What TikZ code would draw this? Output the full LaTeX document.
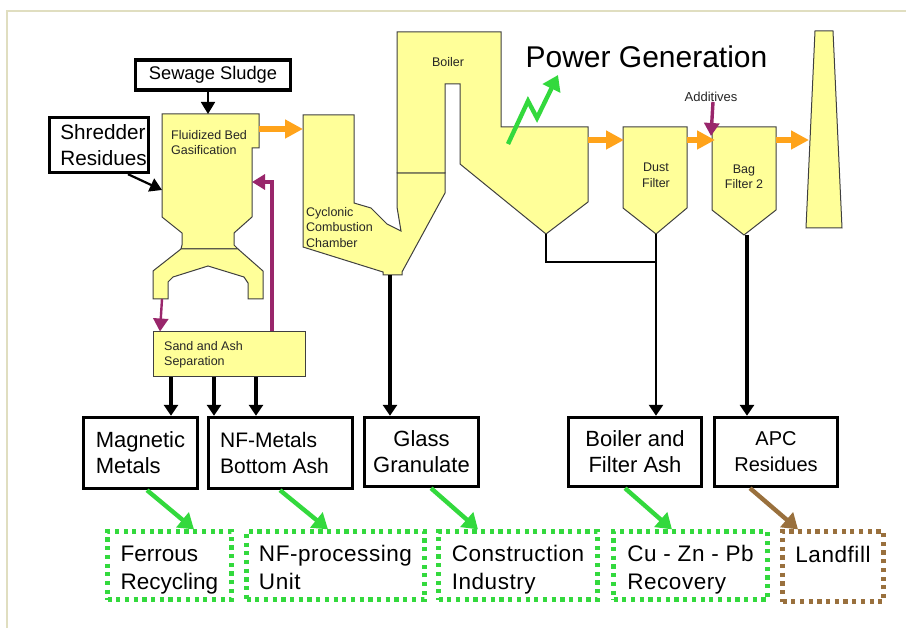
\documentclass[tikz,border=0pt]{standalone}
\usepackage{fontspec}
\setmainfont{Liberation Sans}
\newfontfamily\spacedfont[LetterSpace=2.5]{Liberation Sans}
\usetikzlibrary{arrows.meta}
\definecolor{vesselfill}{HTML}{FFFF99}
\definecolor{flueorange}{HTML}{FFA31A}
\definecolor{reusegreen}{HTML}{33D93D}
\definecolor{solidspurple}{HTML}{99266B}
\definecolor{landfillbrown}{HTML}{99703D}
\definecolor{framecolor}{HTML}{E0DEC0}
\newcommand{\marketrows}[2]{\rule{0pt}{24pt}#1\\#2\rule[-5pt]{0pt}{5pt}}
\tikzset{
  vessel/.style = {
    draw=black!75,
    fill=vesselfill,
    line width=1pt,
    line join=miter
  },
  tag/.style = {
    font=\fontsize{12.5}{15.5}\selectfont,
    text=black!85,
    align=left,
    inner sep=0pt
  },
  feed/.style = {
    draw=black,
    line width=3.4pt,
    fill=white,
    align=left,
    inner sep=0pt
  },
  product/.style = {
    feed,
    font=\fontsize{22}{26}\selectfont
  },
  market/.style = {
    product,
    draw=reusegreen,
    line width=4.2pt,
    dash pattern=on 4.2pt off 4.5pt,
    font=\spacedfont\fontsize{22.5}{28}\selectfont
  },
  flue/.style = {
    draw=flueorange,
    line width=5.5pt,
    -{Triangle[length=18pt,width=18pt]}
  },
  residue/.style = {
    draw=black,
    line width=3.6pt,
    -{Triangle[length=11pt,width=14pt]}
  },
  thinfeed/.style = {
    draw=black,
    line width=1.8pt,
    -{Triangle[length=12pt,width=14pt]}
  },
  solids/.style = {
    draw=solidspurple,
    line width=3.4pt,
    -{Triangle[length=13pt,width=15pt]}
  },
  reuse/.style = {
    draw=reusegreen,
    line width=4.4pt,
    -{Triangle[length=15pt,width=19pt]}
  }
}

\begin{document}
\begin{tikzpicture}[x=1pt,y=-1pt]

      \useasboundingbox (0,0) rectangle (906,628);
      \fill[white] (0,0) rectangle (906,628);
      \draw[framecolor, line width=1.6pt] (7,628) -- (7,11) -- (906,11);

      % plant
      \draw[vessel] (162,114) -- (259,114) -- (259,148) -- (252,148) -- (252,217) -- (234,233)
        -- (234,245) -- (238,249) -- (181,249) -- (182,245) -- (182,233) -- (162,217) -- cycle;
      \draw[vessel] (181,249) -- (238,249) -- (263,271) -- (263,299) -- (248,299) -- (248,283)
        -- (244,277) -- (208,266) -- (173,277) -- (168,282) -- (168,299) -- (153,299) -- (153,271) -- cycle;
      \draw[vessel] (397,173) -- (445,173) -- (445,193) -- (402,272) -- (402,275) -- (383,275)
        -- (383,272) -- (303,247) -- (303,115) -- (354,115) -- (354,203) -- (371,208) -- (387,224)
        -- (401,231) -- (397,207) -- cycle;
      \draw[vessel] (397,32) -- (501,32) -- (501,127) -- (588,127) -- (588,202) -- (546,234)
        -- (460,164) -- (460,84) -- (445,84) -- (445,173) -- (397,173) -- cycle;
      \draw[vessel] (623,127) -- (687,127) -- (687,208) -- (656,234) -- (623,208) -- cycle;
      \draw[vessel] (712,127) -- (776,127) -- (776,210) -- (744,235) -- (712,210) -- cycle;
      \draw[vessel] (815,31) -- (833,31) -- (842,228) -- (806,228) -- cycle;
      \node[vessel, minimum width=152pt, minimum height=45pt, inner sep=0pt] (sand) at (229,354.5) {};

      % labels on the plant
      \node[tag, anchor=west] (gasifierlabel) at (171,142.5) {Fluidized Bed\\Gasification};
      \node[tag, anchor=west] (chamberlabel) at (306,227.5) {Cyclonic\\Combustion\\Chamber};
      \node[tag, anchor=west] (sandlabel) at (164,355) {Sand and Ash\\Separation};
      \node[tag] (boilerlabel) at (448,62.5) {Boiler};
      \node[tag, align=center] (dustlabel) at (656,175.5) {Dust\\Filter};
      \node[tag, align=center] (baglabel) at (744,177) {Bag\\Filter 2};
      \node[tag, font=\fontsize{13}{15}\selectfont] (additives) at (711,97) {Additives};
      \node[inner sep=0pt, font=\fontsize{30}{34}\selectfont] (power) at (646.5,57) {Power Generation};

      % inputs
      \node[feed, font=\fontsize{18.3}{22}\selectfont, minimum width=155pt, minimum height=30pt] (sewage) at (213,75) {Sewage Sludge};
      \node[product, font=\fontsize{20.7}{26}\selectfont, minimum width=99pt, minimum height=55pt] (shredder) at (99,145) {\hspace*{9pt}Shredder\\\hspace*{9pt}Residues};

      % products
      \node[product, minimum width=114pt, minimum height=71pt] (magnetic) at (140.5,453) {Magnetic\\Metals};
      \node[product, font=\fontsize{21}{26}\selectfont, minimum width=144pt, minimum height=71pt] (nfmetals) at (280.5,453) {NF-Metals\\Bottom Ash\hspace*{12pt}};
      \node[product, align=center, minimum width=114pt, minimum height=69pt] (glass) at (421.5,452) {Glass\\Granulate};
      \node[product, align=center, minimum width=133pt, minimum height=69pt] (ash) at (635,452) {Boiler and\\Filter Ash};
      \node[product, align=center, font=\fontsize{20}{26}\selectfont, minimum width=123pt, minimum height=69pt] (apc) at (776,452) {APC\\Residues};

      % outlets
      \node[market, font=\fontsize{22.5}{28}\selectfont, minimum width=124pt, minimum height=68pt] (ferrous) at (169.5,565.5) {\marketrows{Ferrous}{Recycling}};
      \node[market, minimum width=178pt, minimum height=68pt] (nfunit) at (335.5,565.5) {\marketrows{NF-processing}{Unit}};
      \node[market, minimum width=159pt, minimum height=68pt] (construction) at (518,565.5) {\marketrows{Construction}{Industry}};
      \node[market, minimum width=154pt, minimum height=68pt] (recovery) at (690.5,565.5) {\marketrows{Cu - Zn - Pb}{Recovery}};
      \node[market, draw=landfillbrown, minimum width=101pt, minimum height=70pt] (landfill) at (833,566.5) {\marketrows{Landfill}{\mbox{}}};

      % connector ends
      \coordinate (gasout) at (259,129);
      \coordinate (chamberin) at (303,129);
      \coordinate (boilerout) at (588,140);
      \coordinate (dustin) at (624,140);
      \coordinate (dustout) at (687,140);
      \coordinate (bagin) at (715,140);
      \coordinate (bagout) at (776,140);
      \coordinate (stackin) at (809,140);
      \coordinate (gastop) at (208,114);
      \coordinate (gasleft) at (162,190);
      \coordinate (gasright) at (252,182);
      \coordinate (leftleg) at (162,299);
      \coordinate (chamberbase) at (390,275);
      \coordinate (boilerbase) at (546,234);
      \coordinate (junction) at (656,262);
      \coordinate (dustbase) at (656,234);
      \coordinate (bagbase) at (747,235);
      \coordinate (bagtop) at (711,136);
      \coordinate (steam) at (508,144);

      % flue gas
      \draw[flue] (gasout) -- (chamberin);
      \draw[flue] (boilerout) -- (dustin);
      \draw[flue] (dustout) -- (bagin);
      \draw[flue] (bagout) -- (stackin);

      % solids
      \draw[thinfeed] (sewage.south -| gastop) -- (gastop);
      \draw[thinfeed, line width=2.2pt] (shredder.south -| 128,0) -- (gasleft);
      \draw[solids, line width=2.4pt] (leftleg) -- (sand.north -| 160,0);
      \draw[solids] (sand.north -| 272,0) -- (272,182) -- (gasright);
      \draw[solids] (additives.south -| 713,0) -- (bagtop);
      \draw[residue] (sand.south -| 171,0) -- (magnetic.north -| 171,0);
      \draw[residue] (sand.south -| 214,0) -- (nfmetals.north -| 214,0);
      \draw[residue] (sand.south -| 256,0) -- (nfmetals.north -| 256,0);
      \draw[residue] (chamberbase) -- (glass.north -| chamberbase);
      \draw[black, line width=2.6pt] (boilerbase) -- (boilerbase |- junction) -- (junction);
      \draw[residue, line width=2.4pt] (dustbase) -- (ash.north -| dustbase);
      \draw[residue] (bagbase) -- (apc.north -| bagbase);

      % recovery
      \draw[reuse] (steam) -- (528,101) -- (537,118) -- (558,75);
      \draw[reuse] (magnetic.south -| 147,0) -- (ferrous.north -| 194,0);
      \draw[reuse] (nfmetals.south -| 280,0) -- (nfunit.north -| 328,0);
      \draw[reuse] (glass.south -| 431,0) -- (construction.north -| 478,0);
      \draw[reuse] (ash.south -| 625,0) -- (recovery.north -| 672,0);
      \draw[reuse, draw=landfillbrown] (apc.south -| 750,0) -- (landfill.north -| 798,0);

\end{tikzpicture}
\end{document}
